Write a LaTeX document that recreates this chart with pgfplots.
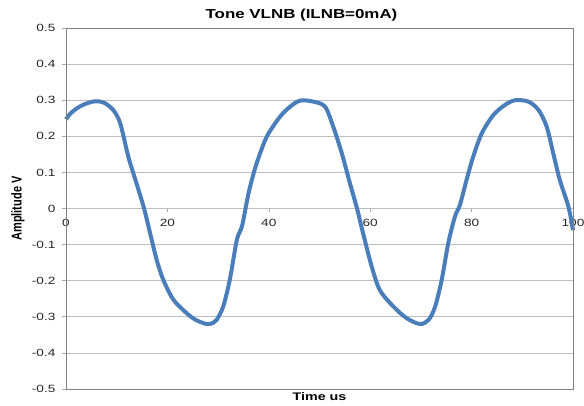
\documentclass[border=0pt]{standalone}
\usepackage{fontspec}
\setmainfont{Liberation Sans}
\newfontfamily\widefont[FakeStretch=1.3]{Liberation Sans}
\usepackage{pgfplots}
\pgfplotsset{compat=1.18}
\definecolor{exblue}{RGB}{74,126,187}
\definecolor{gridgray}{RGB}{190,190,190}
\definecolor{framegray}{RGB}{128,128,128}
\begin{document}
\begin{tikzpicture}[x=1pt,y=1pt]
\useasboundingbox (-66,-17) rectangle (518,389);
\begin{axis}[
  at={(0,0)}, anchor=south west,
  scale only axis, width=507pt, height=361pt,
  xmin=0, xmax=100, ymin=-0.5, ymax=0.5,
  axis x line=middle, axis y line=left,
  x axis line style={-, draw=gridgray},
  y axis line style={-, draw=framegray!70},
  hide obscured x ticks=false, hide obscured y ticks=false,
  xtick={0,20,40,60,80,100},
  ytick={-0.5,-0.4,-0.3,-0.2,-0.1,0,0.1,0.2,0.3,0.4,0.5},
  yticklabels={-0.5,-0.4,-0.3,-0.2,-0.1,0,0.1,0.2,0.3,0.4,0.5},
  tick align=outside, major tick length=4pt,
  tick style={draw=framegray!70, line width=0.6pt},
  ymajorgrids, grid style={draw=gridgray, line width=0.7pt},
  /pgf/number format/assume math mode=true,
  ticklabel style={font=\widefont\fontsize{10.5}{12}\selectfont, text=black!85},
  yticklabel style={anchor=east, xshift=-3pt},
  xticklabel style={anchor=north, yshift=-3pt},
  clip=false,
  after end axis/.code={
    \draw[framegray, line width=0.8pt] (rel axis cs:0,0) rectangle (rel axis cs:1,1);
  },
]
\addplot[exblue, line width=4pt, smooth, tension=0.5] coordinates {
(0,0.247) (0.8,0.262) (2.1,0.277) (3.5,0.288) (5.7,0.297) (7.5,0.293) (9.3,0.273)
(10.7,0.236) (12.3,0.143) (13.9,0.07) (15.4,0.0) (16.6,-0.069) (17.9,-0.143)
(19.2,-0.198) (21.2,-0.253) (23.8,-0.29) (25.5,-0.308) (27.7,-0.32) (29.0,-0.317)
(29.7,-0.309) (31.0,-0.272) (32.3,-0.198) (33.7,-0.087) (34.7,-0.05) (35.6,0.014)
(36.3,0.06) (37.6,0.125) (39.6,0.199) (42.2,0.254) (44.2,0.282) (46.2,0.299)
(48.8,0.296) (51.1,0.282) (52.7,0.227) (54.4,0.153) (56.0,0.07) (57.4,0.0)
(58.6,-0.069) (60.3,-0.161) (61.9,-0.226) (64.6,-0.272) (67.2,-0.304) (69.8,-0.32)
(71.5,-0.309) (72.8,-0.272) (74.1,-0.198) (75.4,-0.096) (76.7,-0.023) (77.7,0.01)
(79.0,0.079) (80.3,0.143) (82.0,0.208) (84.3,0.259) (86.6,0.287) (88.6,0.3)
(91.2,0.296) (93.2,0.273) (94.8,0.227) (96.1,0.153) (97.4,0.079) (99.1,0.005)
(100,-0.06)
};
\node[anchor=base, yshift=9pt, font=\widefont\fontsize{13}{15}\selectfont\bfseries] at (axis description cs:0.4645,1) {Tone VLNB (ILNB=0mA)};
\node[anchor=base, yshift=-11.7pt, font=\widefont\fontsize{11}{13}\selectfont\bfseries] at (axis description cs:0.5,0) {Time us};
\node[xshift=-48pt, xscale=1.3, rotate=90, transform shape, anchor=center, font=\fontsize{11}{13}\selectfont\bfseries] at (axis description cs:0,0.5) {Amplitude V};
\end{axis}
\end{tikzpicture}
\end{document}
